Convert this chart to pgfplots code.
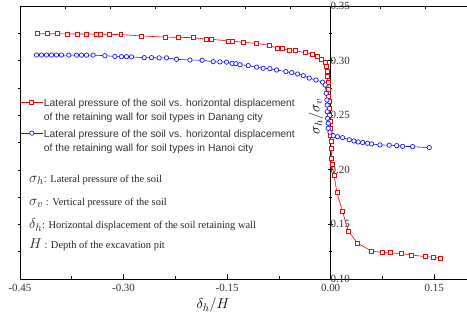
\documentclass[border=0pt]{standalone}
\usepackage{fontspec}
\setmainfont{Liberation Serif}
\newfontfamily\arial{Liberation Sans}
\usepackage{pgfplots}
\pgfplotsset{compat=1.18}

\pgfplotstableread{
x y
-0.4246 0.3246
-0.4101 0.3246
-0.3957 0.3246
-0.3812 0.3244
-0.3667 0.3244
-0.3536 0.3244
-0.3391 0.3242
-0.3329 0.3242
-0.3199 0.3240
-0.3039 0.3238
-0.2739 0.3226
-0.2391 0.3215
-0.2199 0.3213
-0.1991 0.3210
-0.1797 0.3196
-0.1725 0.3195
-0.1484 0.3180
-0.1426 0.3177
-0.1267 0.3168
-0.1083 0.3158
-0.0890 0.3140
-0.0768 0.3113
-0.0696 0.3110
-0.0600 0.3094
-0.0513 0.3090
-0.0372 0.3073
-0.0261 0.3060
-0.0194 0.3036
-0.0136 0.3012
-0.0083 0.2985
-0.0055 0.2951
-0.0050 0.2898
-0.0045 0.2859
-0.0040 0.2798
-0.0035 0.2737
-0.0030 0.2676
-0.0025 0.2624
-0.0020 0.2563
-0.0015 0.2502
-0.0010 0.2440
-0.0005 0.2380
0.0000 0.2319
0.0005 0.2257
0.0010 0.2197
0.0015 0.2105
0.0020 0.2050
0.0052 0.1946
0.0091 0.1790
0.0174 0.1616
0.0255 0.1440
0.0391 0.1327
0.0594 0.1256
0.0748 0.1244
0.0859 0.1240
0.1029 0.1232
0.1174 0.1220
0.1377 0.1204
0.1487 0.1199
0.1594 0.1190
}\danang

\pgfplotstableread{
x y
-0.4261 0.3051
-0.4188 0.3051
-0.4116 0.3051
-0.4043 0.3051
-0.3971 0.3051
-0.3899 0.3051
-0.3793 0.3050
-0.3681 0.3050
-0.3609 0.3050
-0.3536 0.3050
-0.3440 0.3050
-0.3271 0.3045
-0.3126 0.3038
-0.3029 0.3036
-0.2957 0.3036
-0.2884 0.3034
-0.2701 0.3027
-0.2594 0.3027
-0.2484 0.3025
-0.2377 0.3025
-0.2232 0.3012
-0.2039 0.3005
-0.1861 0.3003
-0.1701 0.2990
-0.1604 0.2988
-0.1507 0.2986
-0.1426 0.2975
-0.1372 0.2972
-0.1314 0.2962
-0.1194 0.2954
-0.1072 0.2940
-0.0977 0.2930
-0.0880 0.2926
-0.0783 0.2914
-0.0648 0.2899
-0.0565 0.2890
-0.0478 0.2877
-0.0397 0.2862
-0.0310 0.2840
-0.0213 0.2822
-0.0116 0.2803
-0.0078 0.2777
-0.0064 0.2700
-0.0054 0.2639
-0.0050 0.2593
-0.0050 0.2532
-0.0045 0.2472
-0.0035 0.2426
-0.0035 0.2380
-0.0010 0.2345
0.0040 0.2312
0.0100 0.2303
0.0174 0.2294
0.0270 0.2275
0.0338 0.2264
0.0400 0.2255
0.0464 0.2249
0.0536 0.2243
0.0594 0.2237
0.0714 0.2228
0.0849 0.2225
0.0957 0.2221
0.1043 0.2215
0.1188 0.2212
0.1429 0.2203
}\hanoi

\newcommand{\legtext}[2]{\vtop{\baselineskip=14bp\hbox{\strut #1}\hbox{\strut #2}}}

\begin{document}
\begin{tikzpicture}
\begin{axis}[name=ax, scale only axis, width=446.6bp, height=273bp,
  xmin=-0.45, xmax=0.197, ymin=0.10, ymax=0.35,
  axis x line=box, axis y line=middle,
  hide obscured x ticks=false, hide obscured y ticks=false,
  axis line style={line width=0.7pt, -},
  xtick={-0.45,-0.30,-0.15,0,0.15},
  xticklabels={-0.45,-0.30,-0.15,0.00,0.15},
  minor x tick num=1,
  xtick pos=left,
  xtick align=inside,
  ytick={0.10,0.15,0.20,0.25,0.30,0.35},
  yticklabels={0.10,0.15,0.20,0.25,0.30,0.35},
  minor y tick num=1,
  yticklabel pos=right,
  ytick align=center,
  major tick length=5bp, minor tick length=3bp,
  tick style={line width=0.7pt, black},
  ticklabel style={font=\fontsize{11}{12}\selectfont, text=black!80},
  yticklabel style={anchor=west, xshift=-1bp},
  xticklabel style={yshift=-2bp},
  clip=false,
  legend cell align=left,
  legend style={at={(rel axis cs:0,0.672)}, anchor=north west, draw=none, fill=none,
    inner sep=0pt, row sep=19bp,
    font=\arial\fontsize{10.4}{14}\selectfont, text=black!80,
    nodes={inner sep=0.5pt}},
  legend image code/.code={\draw[mark repeat=2,mark phase=2] plot coordinates {(0cm,0cm) (0.4cm,0cm) (0.8cm,0cm)};},
]
\addplot[color={rgb,255:red,255;green,0;blue,0}, line width=0.6pt, mark=square*, mark size=2pt, mark options={solid, line width=0.7pt, fill=white, draw={rgb,255:red,255;green,0;blue,0}}] table[x=x,y=y] {\danang};
\addlegendentry{\legtext{Lateral pressure of the soil vs. horizontal displacement}{of the retaining wall for soil types in Danang city}}
\addplot[color={rgb,255:red,20;green,20;blue,255}, line width=0.6pt, mark=*, mark size=2.2pt, mark options={solid, line width=0.7pt, fill=white, draw={rgb,255:red,20;green,20;blue,255}}] table[x=x,y=y] {\hanoi};
\addlegendentry{\legtext{Lateral pressure of the soil vs. horizontal displacement}{of the retaining wall for soil types in Hanoi city}}

\draw[line width=0.7pt] (axis cs:-0.45,0.10) -- (axis cs:-0.45,0.35);
\pgfplotsinvokeforeach{0.125,0.15,0.175,0.20,0.225,0.25,0.275,0.30,0.325}{
  \draw[line width=0.6pt] (axis cs:-0.45,#1) -- ++(-2bp,0bp);
}
\pgfplotsinvokeforeach{-0.385,-0.3199,-0.2546,-0.1894,-0.1242,-0.059,0.0714,0.1367}{
  \draw[line width=0.6pt] (axis cs:#1,0.35) -- ++(0bp,-2.5bp);
}

\node[rotate=90, inner sep=0pt] at (axis cs:-0.021,0.249) {\fontsize{15}{15}\selectfont$\sigma_h/\sigma_v$};

\node[anchor=west, inner sep=0pt, font=\fontsize{10.5}{11}\selectfont, text=black!85] at ([xshift=9bp,yshift=99bp]rel axis cs:0,0)
  {{\fontsize{15}{15}\selectfont$\sigma_h$}: Lateral pressure of the soil};
\node[anchor=west, inner sep=0pt, font=\fontsize{10.5}{11}\selectfont, text=black!85] at ([xshift=9bp,yshift=76bp]rel axis cs:0,0)
  {{\fontsize{15}{15}\selectfont$\sigma_v$} : Vertical pressure of the soil};
\node[anchor=west, inner sep=0pt, font=\fontsize{10.5}{11}\selectfont, text=black!85] at ([xshift=9bp,yshift=54bp]rel axis cs:0,0)
  {{\fontsize{15}{15}\selectfont$\delta_h$}: Horizontal displacement of the soil retaining wall};
\node[anchor=west, inner sep=0pt, font=\fontsize{10.5}{11}\selectfont, text=black!85] at ([xshift=9bp,yshift=34bp]rel axis cs:0,0)
  {{\fontsize{15}{15}\selectfont$H$} : Depth of the excavation pit};
\end{axis}
\node[inner sep=0pt] at ([xshift=193bp,yshift=-26bp]ax.south west) {\fontsize{15}{15}\selectfont$\delta_h/H$};
\pgfresetboundingbox
\path ([xshift=-20bp,yshift=-43bp]ax.south west) rectangle ([xshift=0.4bp,yshift=6bp]ax.north east);
\end{tikzpicture}
\end{document}
